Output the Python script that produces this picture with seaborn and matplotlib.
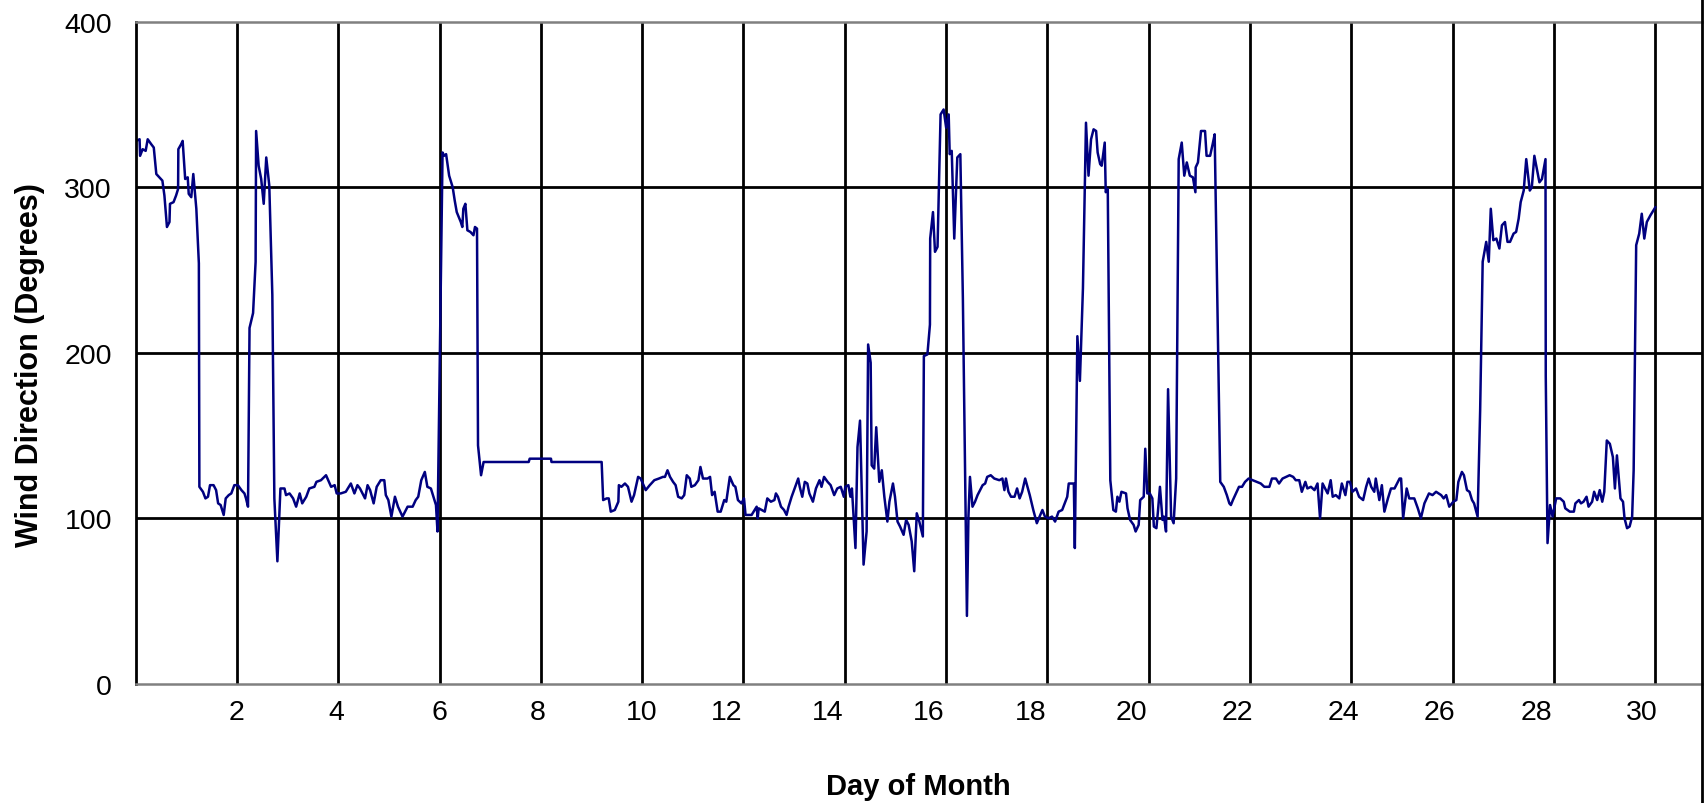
import matplotlib
matplotlib.use("Agg")
import matplotlib.pyplot as plt
from matplotlib.lines import Line2D
import seaborn as sns
import pandas as pd

# wind direction trace (day of month, degrees)
day = [
    0.01, 0.08, 0.09, 0.14, 0.20, 0.24, 0.31, 0.36, 0.41, 0.47, 0.53, 0.57, 0.62, 0.67, 0.68, 0.75,
    0.80, 0.84, 0.845, 0.90, 0.93, 0.98, 1.03, 1.05, 1.10, 1.14, 1.20, 1.25, 1.26, 1.33, 1.38, 1.43,
    1.47, 1.54, 1.59, 1.63, 1.68, 1.74, 1.78, 1.84, 1.89, 1.95, 2.02, 2.09, 2.15, 2.18, 2.22, 2.25,
    2.32, 2.37, 2.38, 2.43, 2.48, 2.53, 2.58, 2.64, 2.70, 2.74, 2.80, 2.86, 2.94, 2.97, 3.04, 3.11,
    3.17, 3.24, 3.29, 3.37, 3.43, 3.53, 3.57, 3.66, 3.76, 3.86, 3.93, 3.97,
    4.05, 4.15, 4.25, 4.32, 4.38, 4.43, 4.48, 4.53, 4.58, 4.63, 4.70, 4.76, 4.84, 4.91, 4.94, 4.99,
    5.05, 5.12, 5.18, 5.27, 5.37, 5.47, 5.53, 5.58, 5.64, 5.71, 5.76, 5.83, 5.88, 5.93, 5.96, 6.06,
    6.09, 6.13, 6.19, 6.26, 6.30, 6.34, 6.42, 6.45, 6.47, 6.51, 6.55, 6.61, 6.67, 6.70, 6.74, 6.76,
    6.82, 6.87, 7.76, 7.78, 8.20, 8.21, 9.20,
    9.23, 9.30, 9.34, 9.38, 9.46, 9.53, 9.54, 9.59, 9.66, 9.72, 9.79, 9.84, 9.92, 9.97, 10.07, 10.15,
    10.24, 10.33, 10.41, 10.45, 10.50, 10.55, 10.61, 10.66, 10.71, 10.78, 10.83, 10.88, 10.94, 10.97,
    11.04, 11.11, 11.15, 11.20, 11.29, 11.34, 11.38, 11.43, 11.49, 11.55, 11.62, 11.66, 11.73, 11.80,
    11.84, 11.89, 11.96, 12.01, 12.04, 12.16, 12.26, 12.28, 12.30, 12.42, 12.47, 12.54, 12.61, 12.64,
    12.68, 12.74, 12.80, 12.85, 12.89, 12.95, 13.01, 13.08, 13.11, 13.16, 13.21, 13.26, 13.30, 13.37,
    13.43, 13.50, 13.54, 13.59, 13.66, 13.72, 13.79, 13.85, 13.92, 13.98, 14.01, 14.07, 14.11, 14.14,
    14.21, 14.25, 14.30, 14.37, 14.43, 14.46, 14.51, 14.53, 14.58, 14.62, 14.68, 14.73, 14.78, 14.84,
    14.88, 14.95, 14.99, 15.04, 15.09, 15.16, 15.21, 15.26, 15.32, 15.37, 15.42, 15.47, 15.54, 15.56,
    15.63, 15.68, 15.685, 15.74, 15.78, 15.83, 15.89, 15.95, 16.00, 16.05, 16.07, 16.11, 16.16, 16.22,
    16.28, 16.33, 16.41, 16.44, 16.47, 16.52, 16.57, 16.62, 16.67, 16.72, 16.77,
    16.81, 16.88, 16.95, 17.05, 17.11, 17.15, 17.18, 17.23, 17.28, 17.35, 17.40, 17.45, 17.50, 17.56,
    17.65, 17.72, 17.79, 17.83, 17.90, 17.95, 18.02, 18.09, 18.15, 18.22, 18.29, 18.34, 18.39, 18.42,
    18.52, 18.54, 18.59, 18.64, 18.70, 18.76, 18.81, 18.86, 18.91, 18.96, 18.99, 19.04, 19.07, 19.13,
    19.15, 19.19, 19.24, 19.30, 19.35, 19.38, 19.42, 19.46, 19.55, 19.58, 19.63, 19.70, 19.74, 19.80,
    19.83, 19.90, 19.93, 19.97, 20.02, 20.07, 20.10, 20.15, 20.18, 20.22, 20.27, 20.30, 20.34, 20.38,
    20.44, 20.49, 20.54, 20.59, 20.65, 20.70, 20.75, 20.81, 20.87, 20.92, 20.925, 20.97, 21.03, 21.11,
    21.14, 21.21, 21.26, 21.30, 21.41, 21.48, 21.54, 21.59,
    21.62, 21.66, 21.72, 21.78, 21.84, 21.90, 21.97, 22.05, 22.13, 22.21, 22.28, 22.38, 22.43, 22.51,
    22.57, 22.64, 22.71, 22.78, 22.85, 22.90, 22.97, 23.02, 23.09, 23.13, 23.20, 23.27, 23.33, 23.38,
    23.43, 23.48, 23.53, 23.59, 23.63, 23.69, 23.76, 23.81, 23.88, 23.92, 23.97, 24.02, 24.09, 24.15,
    24.23, 24.29, 24.34, 24.39, 24.45, 24.48, 24.55, 24.60, 24.65, 24.72, 24.78, 24.85, 24.95, 24.98,
    25.02, 25.09, 25.14, 25.24, 25.31, 25.37, 25.44, 25.53, 25.60, 25.67, 25.77, 25.82, 25.87, 25.93,
    26.01,
    26.07, 26.11, 26.18, 26.22, 26.28, 26.33, 26.38, 26.42, 26.49, 26.54, 26.59, 26.66, 26.71, 26.75,
    26.80, 26.86, 26.92, 26.97, 27.03, 27.08, 27.13, 27.20, 27.25, 27.30, 27.34, 27.40, 27.45, 27.52,
    27.56, 27.61, 27.66, 27.71, 27.76, 27.83, 27.835, 27.87, 27.92, 27.97, 28.04, 28.12, 28.19, 28.22,
    28.31, 28.39, 28.42, 28.49, 28.53, 28.58, 28.64, 28.68, 28.75, 28.79, 28.85, 28.90, 28.95, 28.99,
    29.04, 29.10, 29.16, 29.20, 29.24, 29.31, 29.36, 29.39, 29.44, 29.49, 29.54, 29.57, 29.62, 29.68,
    29.73, 29.78, 29.83, 29.90, 29.96, 30.00,
]
wind_dir = [
    328, 329, 319, 323, 322, 329, 326, 324, 308, 306, 304, 295, 276, 279, 290, 291,
    295, 299, 323, 326, 328, 305, 306, 296, 294, 308, 287, 254, 119, 116, 112, 113,
    120, 120, 117, 109, 108, 102, 112, 114, 115, 120, 120, 117, 115, 112, 107, 215,
    224, 255, 334, 313, 305, 290, 318, 301, 235, 112, 74, 118, 118, 114, 115, 112,
    107, 115, 109, 113, 118, 119, 122, 123, 126, 119, 120, 115,
    115, 116, 121, 115, 120, 118, 115, 112, 120, 117, 109, 119, 123, 123, 114, 111,
    101, 113, 107, 101, 107, 107, 111, 113, 123, 128, 119, 118, 113, 108, 92, 321,
    319, 320, 307, 300, 292, 285, 279, 276, 287, 290, 274, 273, 271, 276, 275, 144,
    126, 134, 134, 136, 136, 134, 134,
    111, 112, 112, 104, 105, 110, 120, 119, 121, 119, 110, 114, 125, 124, 117, 120,
    123, 124, 125, 125, 129, 125, 122, 120, 113, 112, 114, 126, 124, 119,
    120, 123, 131, 124, 124, 125, 114, 116, 104, 104, 111, 110, 125, 120,
    119, 111, 109, 112, 102, 102, 107, 100, 106, 104, 112, 110, 111, 115,
    113, 107, 105, 102, 107, 113, 118, 124, 119, 113, 122, 121, 115, 110,
    118, 123, 119, 125, 122, 120, 114, 118, 119, 113, 119, 120, 113, 118,
    82, 143, 159, 72, 92, 205, 194, 132, 130, 155, 122, 129, 113, 98,
    110, 121, 113, 98, 95, 90, 99, 96, 86, 68, 103, 98, 89, 198,
    199, 217, 269, 285, 261, 264, 344, 347, 336, 344, 320, 322, 269, 318,
    320, 233, 41, 101, 125, 107, 110, 114, 117, 120, 121,
    125, 126, 124, 123, 124, 117, 124, 116, 113, 113, 118, 112, 116, 124,
    114, 105, 97, 100, 105, 101, 100, 101, 98, 104, 105, 109, 113, 121,
    121, 82, 210, 183, 239, 339, 307, 329, 335, 334, 321, 314, 313, 327,
    297, 299, 123, 105, 104, 113, 110, 116, 115, 106, 99, 96, 92, 96,
    111, 113, 142, 115, 115, 112, 95, 94, 104, 119, 99, 101, 92, 178,
    101, 97, 124, 317, 327, 307, 315, 307, 306, 297, 312, 315, 334, 334,
    319, 319, 326, 332, 122, 119, 114, 109,
    108, 111, 115, 119, 119, 122, 124, 123, 122, 121, 119, 119, 124, 124,
    121, 124, 125, 126, 125, 123, 123, 116, 122, 118, 119, 117, 121, 100,
    121, 118, 115, 123, 113, 114, 112, 121, 114, 122, 122, 116, 118, 113,
    111, 119, 124, 119, 116, 124, 111, 120, 104, 112, 118, 118, 124, 124,
    100, 118, 112, 112, 106, 100, 109, 115, 114, 116, 114, 112, 114, 107,
    110,
    111, 122, 128, 126, 117, 116, 111, 109, 101, 165, 255, 267, 255, 287,
    268, 269, 263, 277, 279, 267, 267, 272, 273, 281, 291, 298, 317, 298,
    300, 319, 311, 303, 305, 317, 186, 85, 108, 101, 112, 112, 110, 106,
    104, 104, 109, 111, 109, 110, 113, 107, 110, 116, 111, 117, 110, 116,
    147, 145, 137, 118, 138, 112, 110, 100, 94, 95, 101, 129, 265, 272,
    284, 269, 279, 283, 286, 288,
]

grid_days = list(range(2, 31, 2))
tick_labels = [str(d) for d in grid_days]
label_pos = [2.0, 3.96, 6.0, 7.94, 10.0, 11.66, 13.66, 15.66, 17.66, 19.66,
             21.74, 23.84, 25.74, 27.65, 29.73]
y_ticks = [0, 100, 200, 300, 400]

df = pd.DataFrame({"day": day, "direction": wind_dir})

sns.set_style("white")
plt.rcParams["font.family"] = ["Liberation Sans", "DejaVu Sans"]
plt.rcParams["text.color"] = "black"
plt.rcParams["xtick.color"] = "black"
plt.rcParams["ytick.color"] = "black"

fig = plt.figure(figsize=(17.07, 8.04), dpi=100)
ax = fig.add_axes([0.0794, 0.1483, 0.9177, 0.8234])

sns.lineplot(data=df, x="day", y="direction", ax=ax, estimator=None, sort=False,
             color="#000080", linewidth=1.8)

ax.set_xlim(0, 30.92)
ax.set_ylim(0, 400)

# gridlines on the major ticks, labels on minor ticks (shifted like the original)
ax.xaxis.remove_overlapping_locs = False
ax.set_xticks(grid_days)
ax.set_xticklabels([])
ax.set_xticks(label_pos, minor=True)
ax.set_xticklabels(tick_labels, minor=True, fontsize=20.5)
ax.tick_params(axis="x", which="both", length=0, pad=11)

ax.set_yticks(y_ticks)
ax.set_yticklabels([str(v) for v in y_ticks], fontsize=20.5)
ax.tick_params(axis="y", length=6.5, width=1.6, color="black", pad=10.5, direction="out")

ax.grid(True, which="major", color="black", linewidth=2.0)
ygl = ax.get_ygridlines()
ygl[0].set_visible(False)
ygl[-1].set_visible(False)

ax.spines["top"].set_color("#808080")
ax.spines["top"].set_linewidth(1.8)
ax.spines["bottom"].set_color("#808080")
ax.spines["bottom"].set_linewidth(1.8)
ax.spines["left"].set_color("black")
ax.spines["left"].set_linewidth(2.0)
ax.spines["right"].set_visible(False)
ax.set_xlabel("")
ax.set_ylabel("")

fig.text(0.5382, 0.0112, "Day of Month", fontsize=21, fontweight="bold",
         ha="center", va="baseline")
fig.text(0.0173, 0.546, "Wind Direction (Degrees)", fontsize=22, fontweight="bold",
         rotation=90, ha="center", va="center")

fig.add_artist(Line2D([0.9971, 0.9971], [0, 1], color="black", linewidth=2.0,
                      transform=fig.transFigure))

fig.savefig("out.png", dpi=100)
